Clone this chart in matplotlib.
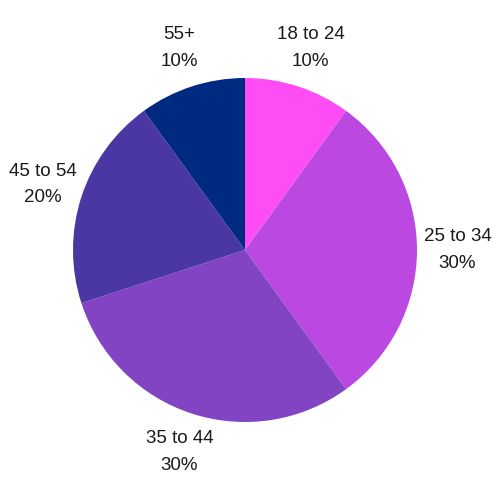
import matplotlib
matplotlib.use("Agg")
import matplotlib.pyplot as plt

categories = ["18 to 24", "25 to 34", "35 to 44", "45 to 54", "55+"]
shares = [10, 30, 30, 20, 10]
colors = ["#ff4df6", "#bb48e0", "#8344c4", "#4a37a3", "#002a7f"]

plt.rcParams['font.family'] = ['Liberation Sans', 'DejaVu Sans']

fig = plt.figure(figsize=(5, 5), dpi=100)
ax = fig.add_axes([0, 0, 1, 1])
R = 172.0
labels = [f"{c}\n{v}%" for c, v in zip(categories, shares)]
wedges, texts = ax.pie(shares, labels=labels, colors=colors, startangle=90,
                       counterclock=False, labeldistance=1.235, radius=1.0,
                       textprops=dict(fontsize=13.5, color='#1a1a1a', linespacing=1.72))
for t in texts:
    t.set_horizontalalignment('center')
    t.set_verticalalignment('center')
ax.set_xlim(-245 / R, 255 / R)
ax.set_ylim(-250 / R, 250 / R)
ax.set_aspect('equal')
ax.axis('off')
fig.savefig("out.png", dpi=100, facecolor='white')
